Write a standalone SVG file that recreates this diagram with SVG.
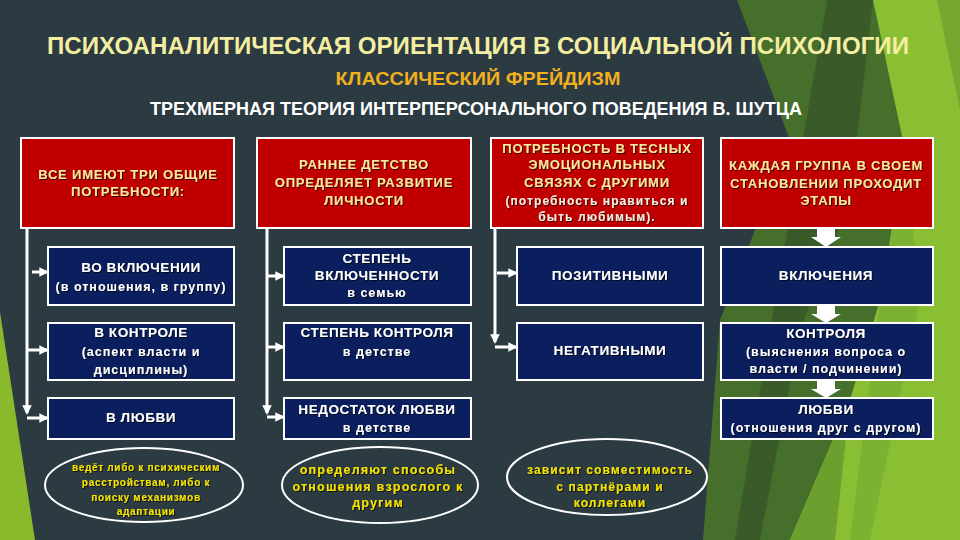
<svg xmlns="http://www.w3.org/2000/svg" width="960" height="540" viewBox="0 0 960 540">
<defs>
<style>
.bg{fill:#2c3a41}
.red{fill:#c00000;stroke:#ffffff;stroke-width:2}
.blue{fill:#0b1f5e;stroke:#ffffff;stroke-width:2}
.ell{fill:none;stroke:#ffffff;stroke-width:2}
text{font-family:"Liberation Sans",Arial,sans-serif;font-weight:bold;text-anchor:middle}
.sh{filter:url(#ds)}
.rt{fill:#f9e79c;font-size:13px;letter-spacing:0.8px}
.rw{fill:#f4efe0;font-size:12px;letter-spacing:1.1px}
.bt{fill:#ffffff;font-size:13.5px;letter-spacing:0.6px}
.bs{fill:#ffffff;font-size:12.5px;letter-spacing:1px}
.et{fill:#f5e400}
.conn{stroke:#ffffff;stroke-width:3;fill:none}
.fat{fill:#ffffff}
</style>
<filter id="ds" x="-10%" y="-30%" width="120%" height="160%">
<feDropShadow dx="1" dy="1" stdDeviation="0.6" flood-color="#000000" flood-opacity="0.7"/>
</filter>
<marker id="ah" viewBox="0 0 10 10" refX="8" refY="5" markerWidth="3.2" markerHeight="3.2" orient="auto" markerUnits="strokeWidth">
<path d="M0,0 L10,5 L0,10 z" fill="#ffffff"/>
</marker>
</defs>
<rect class="bg" x="0" y="0" width="960" height="540"/>
<g id="background-shapes">
<polygon points="737,0 960,0 960,540 703,540 720,320 790,140" fill="#466f2c"/>
<polygon points="827,0 873,0 850,200 800,330 760,540 735,540 770,330" fill="#3a5b29"/>
<polygon points="873,0 960,0 960,540 790,540 850,400 880,300 905,150" fill="#8abf34"/>
<polygon points="937,0 960,0 960,110" fill="#76a82f"/>
<polygon points="790,540 850,400 835,540" fill="#6d9f2f"/>
<polygon points="880,300 905,150 920,300 870,540 850,540" fill="#7cb232"/>
<polygon points="0,312 35,540 0,540" fill="#8ab92c"/>
</g>
<g id="titles">
<text x="478" y="54" font-size="24" fill="#f3eea2" textLength="862" lengthAdjust="spacingAndGlyphs">ПСИХОАНАЛИТИЧЕСКАЯ ОРИЕНТАЦИЯ В СОЦИАЛЬНОЙ ПСИХОЛОГИИ</text>
<text x="478" y="85" font-size="18" fill="#f0b020" textLength="285" lengthAdjust="spacingAndGlyphs">КЛАССИЧЕСКИЙ ФРЕЙДИЗМ</text>
<text x="476" y="115" font-size="18" fill="#ffffff" textLength="652" lengthAdjust="spacingAndGlyphs">ТРЕХМЕРНАЯ ТЕОРИЯ ИНТЕРПЕРСОНАЛЬНОГО ПОВЕДЕНИЯ В. ШУТЦА</text>
</g>
<g id="connectors">
<polyline class="conn" points="27,229 27,413" marker-end="url(#ah)"/>
<line class="conn" x1="32" y1="272" x2="47" y2="272" marker-end="url(#ah)"/>
<line class="conn" x1="27" y1="350" x2="47" y2="350" marker-end="url(#ah)"/>
<line class="conn" x1="27" y1="418" x2="47" y2="418" marker-end="url(#ah)"/>
<polyline class="conn" points="267,229 267,413" marker-end="url(#ah)"/>
<line class="conn" x1="268" y1="276" x2="283" y2="276" marker-end="url(#ah)"/>
<line class="conn" x1="267" y1="347" x2="283" y2="347" marker-end="url(#ah)"/>
<line class="conn" x1="267" y1="417" x2="283" y2="417" marker-end="url(#ah)"/>
<polyline class="conn" points="495,229 495,342" marker-end="url(#ah)"/>
<line class="conn" x1="497" y1="273" x2="516" y2="273" marker-end="url(#ah)"/>
<line class="conn" x1="495" y1="347" x2="516" y2="347" marker-end="url(#ah)"/>
<polygon class="fat" points="817,229 835,229 835,237 841,237 826,247 811,237 817,237"/>
<polygon class="fat" points="817,306 835,306 835,314 841,314 826,323 811,314 817,314"/>
<polygon class="fat" points="817,381 835,381 835,389 841,389 826,398 811,389 817,389"/>
</g>
<g id="node-r1">
<rect class="red" x="21" y="138" width="213" height="90"/>
<text class="rt sh" x="128" y="179">ВСЕ ИМЕЮТ ТРИ ОБЩИЕ</text>
<text class="rt sh" x="128" y="196">ПОТРЕБНОСТИ:</text>
</g>
<g id="node-r2">
<rect class="red" x="257" y="138" width="214" height="90"/>
<text class="rt sh" x="364" y="169">РАННЕЕ ДЕТСТВО</text>
<text class="rt sh" x="364" y="187">ОПРЕДЕЛЯЕТ РАЗВИТИЕ</text>
<text class="rt sh" x="364" y="205">ЛИЧНОСТИ</text>
</g>
<g id="node-r3">
<rect class="red" x="491" y="138" width="212" height="90"/>
<text class="rt sh" x="597" y="153">ПОТРЕБНОСТЬ В ТЕСНЫХ</text>
<text class="rt sh" x="597" y="169">ЭМОЦИОНАЛЬНЫХ</text>
<text class="rt sh" x="597" y="187">СВЯЗЯХ С ДРУГИМИ</text>
<text class="rw sh" x="597" y="205">(потребность нравиться и</text>
<text class="rw sh" x="597" y="221">быть любимым).</text>
</g>
<g id="node-r4">
<rect class="red" x="721" y="138" width="212" height="90"/>
<text class="rt sh" x="826" y="170">КАЖДАЯ ГРУППА В СВОЕМ</text>
<text class="rt sh" x="826" y="188">СТАНОВЛЕНИИ ПРОХОДИТ</text>
<text class="rt sh" x="826" y="205">ЭТАПЫ</text>
</g>
<g id="node-b11">
<rect class="blue" x="48" y="247" width="186" height="58"/>
<text class="bt sh" x="141" y="272">ВО ВКЛЮЧЕНИИ</text>
<text class="bs sh" x="141" y="291">(в отношения, в группу)</text>
</g>
<g id="node-b12">
<rect class="blue" x="284" y="247" width="187" height="58"/>
<text class="bt sh" x="377" y="263">СТЕПЕНЬ</text>
<text class="bt sh" x="377" y="280">ВКЛЮЧЕННОСТИ</text>
<text class="bs sh" x="377" y="297">в семью</text>
</g>
<g id="node-b13">
<rect class="blue" x="517" y="247" width="186" height="58"/>
<text class="bt sh" x="610" y="280">ПОЗИТИВНЫМИ</text>
</g>
<g id="node-b14">
<rect class="blue" x="721" y="247" width="212" height="58"/>
<text class="bt sh" x="826" y="280">ВКЛЮЧЕНИЯ</text>
</g>
<g id="node-b21">
<rect class="blue" x="48" y="323" width="186" height="57"/>
<text class="bt sh" x="141" y="337">В КОНТРОЛЕ</text>
<text class="bs sh" x="141" y="356">(аспект власти и</text>
<text class="bs sh" x="141" y="374">дисциплины)</text>
</g>
<g id="node-b22">
<rect class="blue" x="284" y="323" width="187" height="57"/>
<text class="bt sh" x="377" y="337">СТЕПЕНЬ КОНТРОЛЯ</text>
<text class="bs sh" x="377" y="356">в детстве</text>
</g>
<g id="node-b23">
<rect class="blue" x="517" y="323" width="186" height="57"/>
<text class="bt sh" x="610" y="355">НЕГАТИВНЫМИ</text>
</g>
<g id="node-b24">
<rect class="blue" x="721" y="323" width="212" height="57"/>
<text class="bt sh" x="826" y="338">КОНТРОЛЯ</text>
<text class="bs sh" x="826" y="356">(выяснения вопроса о</text>
<text class="bs sh" x="826" y="373">власти / подчинении)</text>
</g>
<g id="node-b31">
<rect class="blue" x="48" y="398" width="186" height="41"/>
<text class="bt sh" x="141" y="422">В ЛЮБВИ</text>
</g>
<g id="node-b32">
<rect class="blue" x="284" y="398" width="187" height="41"/>
<text class="bt sh" x="377" y="414">НЕДОСТАТОК ЛЮБВИ</text>
<text class="bs sh" x="377" y="432">в детстве</text>
</g>
<g id="node-b34">
<rect class="blue" x="721" y="398" width="212" height="41"/>
<text class="bt sh" x="826" y="414">ЛЮБВИ</text>
<text class="bs sh" x="826" y="432">(отношения друг с другом)</text>
</g>
<g id="node-e1">
<ellipse class="ell" cx="144" cy="485" rx="99" ry="37"/>
<text class="et sh" x="146" y="471" font-size="10" letter-spacing="0.7">ведёт либо к психическим</text>
<text class="et sh" x="146" y="486" font-size="10" letter-spacing="0.7">расстройствам, либо к</text>
<text class="et sh" x="146" y="501" font-size="10" letter-spacing="0.7">поиску механизмов</text>
<text class="et sh" x="146" y="515" font-size="10" letter-spacing="0.7">адаптации</text>
</g>
<g id="node-e2">
<ellipse class="ell" cx="380" cy="485" rx="98" ry="38"/>
<text class="et sh" x="378" y="474" font-size="12.5" letter-spacing="1.2">определяют способы</text>
<text class="et sh" x="378" y="491" font-size="12.5" letter-spacing="1.2">отношения взрослого к</text>
<text class="et sh" x="378" y="507" font-size="12.5" letter-spacing="1.2">другим</text>
</g>
<g id="node-e3">
<ellipse class="ell" cx="607" cy="477" rx="100" ry="38"/>
<text class="et sh" x="610" y="474" font-size="12" letter-spacing="1.1">зависит совместимость</text>
<text class="et sh" x="610" y="491" font-size="12" letter-spacing="1.1">с партнёрами и</text>
<text class="et sh" x="610" y="507" font-size="12" letter-spacing="1.1">коллегами</text>
</g>
</svg>
